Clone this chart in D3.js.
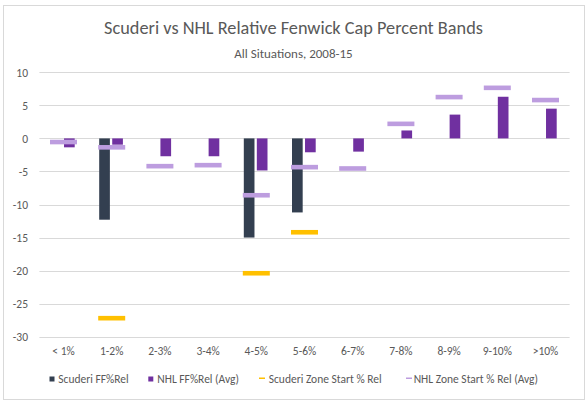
<!DOCTYPE html>
<html>
<head>
<meta charset="utf-8">
<script src="https://cdn.jsdelivr.net/npm/d3@7"></script>
<style>
  html, body { margin: 0; padding: 0; background: #fff; }
  svg { display: block; }
  text { font-family: Carlito, Calibri, Lato, "Open Sans", sans-serif; fill: #595959; }
</style>
</head>
<body>
<svg id="chart" width="588" height="404"></svg>
<script>
const categories = ["< 1%", "1-2%", "2-3%", "3-4%", "4-5%", "5-6%", "6-7%", "7-8%", "8-9%", "9-10%", ">10%"];
const scuderiFF = [null, -12.3, null, null, -15.0, -11.2, null, null, null, null, null];
const nhlFF = [-1.35, -0.95, -2.7, -2.7, -4.85, -2.1, -2.0, 1.2, 3.6, 6.3, 4.5];
const scuderiZS = [null, -27.2, null, null, -20.4, -14.2, null, null, null, null, null];
const nhlZS = [-0.55, -1.35, -4.2, -4.05, -8.6, -4.35, -4.55, 2.2, 6.25, 7.65, 5.8];
const yTicks = [10, 5, 0, -5, -10, -15, -20, -25, -30];
const seriesNames = ["Scuderi FF%Rel", "NHL FF%Rel (Avg)", "Scuderi Zone Start % Rel", "NHL Zone Start % Rel (Avg)"];
const title = "Scuderi vs NHL Relative Fenwick Cap Percent Bands";
const subtitle = "All Situations, 2008-15";

const colors = { scuderiFF: "#333f50", nhlFF: "#7030a0", scuderiZS: "#ffc000", nhlZS: "#bd9ddf" };

const svg = d3.select("#chart");

// chart border
svg.append("rect").attr("x", 3.5).attr("y", 5.5).attr("width", 581).attr("height", 394)
  .attr("fill", "#fff").attr("stroke", "#d9d9d9").attr("stroke-width", 1);

// titles
svg.append("text").attr("x", 293.5).attr("y", 33.5).attr("text-anchor", "middle")
  .style("font-size", "18.3px").text(title);
svg.append("text").attr("x", 293.5).attr("y", 58).attr("text-anchor", "middle")
  .style("font-size", "13px").text(subtitle);

const x0 = d3.scaleBand().domain(categories).range([39.4, 569.6]).padding(0);
const x1 = d3.scaleBand().domain(["s", "n"]).range([-12.5, 11.2]).paddingInner(0.18);
const y = d3.scaleLinear().domain([-30, 10]).range([336.7, 72.3]);
const cx = c => x0(c) + x0.bandwidth() / 2;

// gridlines
const grid = svg.append("g");
grid.selectAll("line").data(yTicks).join("line")
  .attr("x1", 39.4).attr("x2", 569.6)
  .attr("y1", d => Math.round(y(d)) + 0.5).attr("y2", d => Math.round(y(d)) + 0.5)
  .attr("stroke", "#d9d9d9").attr("stroke-width", 1);

// y axis labels
const yAxis = d3.axisLeft(y).tickValues(yTicks).tickSize(0).tickPadding(0).tickFormat(d => String(d));
const yg = svg.append("g").attr("transform", "translate(28,0)").call(yAxis);
yg.select(".domain").remove();
yg.selectAll("text").style("font-size", "11.5px").attr("fill", "#595959").attr("dy", "0.35em");

// x axis labels
const xAxis = d3.axisBottom(x0).tickSize(0).tickPadding(0);
const xg = svg.append("g").attr("transform", "translate(0,344)").call(xAxis);
xg.select(".domain").remove();
xg.selectAll("text").style("font-size", "11.5px").attr("fill", "#595959").attr("dy", "0.95em");

// bars
const barData = [];
categories.forEach((c, i) => {
  if (scuderiFF[i] != null) barData.push({ c, key: "s", v: scuderiFF[i], color: colors.scuderiFF });
  if (nhlFF[i] != null) barData.push({ c, key: "n", v: nhlFF[i], color: colors.nhlFF });
});
svg.append("g").selectAll("rect").data(barData).join("rect")
  .attr("x", d => cx(d.c) + x1(d.key))
  .attr("width", x1.bandwidth())
  .attr("y", d => Math.min(y(0), y(d.v)))
  .attr("height", d => Math.abs(y(d.v) - y(0)))
  .attr("fill", d => d.color);

// dash markers
const dashW = 27, dashH = 4.6;
function dashes(vals, color) {
  const data = categories.map((c, i) => ({ c, v: vals[i] })).filter(d => d.v != null);
  svg.append("g").selectAll("rect").data(data).join("rect")
    .attr("x", d => cx(d.c) - dashW / 2)
    .attr("width", dashW)
    .attr("y", d => y(d.v) - dashH / 2)
    .attr("height", dashH)
    .attr("fill", color);
}
dashes(scuderiZS, colors.scuderiZS);
dashes(nhlZS, colors.nhlZS);

// legend
const legend = svg.append("g");
const legendItems = [
  { name: seriesNames[0], type: "square", color: colors.scuderiFF, mx: 49.5, tx: 58.3 },
  { name: seriesNames[1], type: "square", color: colors.nhlFF, mx: 148.3, tx: 157.3 },
  { name: seriesNames[2], type: "line", color: colors.scuderiZS, mx: 259, tx: 268.7 },
  { name: seriesNames[3], type: "line", color: colors.nhlZS, mx: 406, tx: 413.7 }
];
legendItems.forEach(it => {
  if (it.type === "square") {
    legend.append("rect").attr("x", it.mx).attr("y", 376.5).attr("width", 5).attr("height", 5).attr("fill", it.color);
  } else {
    legend.append("rect").attr("x", it.mx).attr("y", 377.5).attr("width", 6).attr("height", 1.5).attr("fill", it.color);
  }
  legend.append("text").attr("x", it.tx).attr("y", 382.7).style("font-size", "11.5px").text(it.name);
});
</script>
</body>
</html>
